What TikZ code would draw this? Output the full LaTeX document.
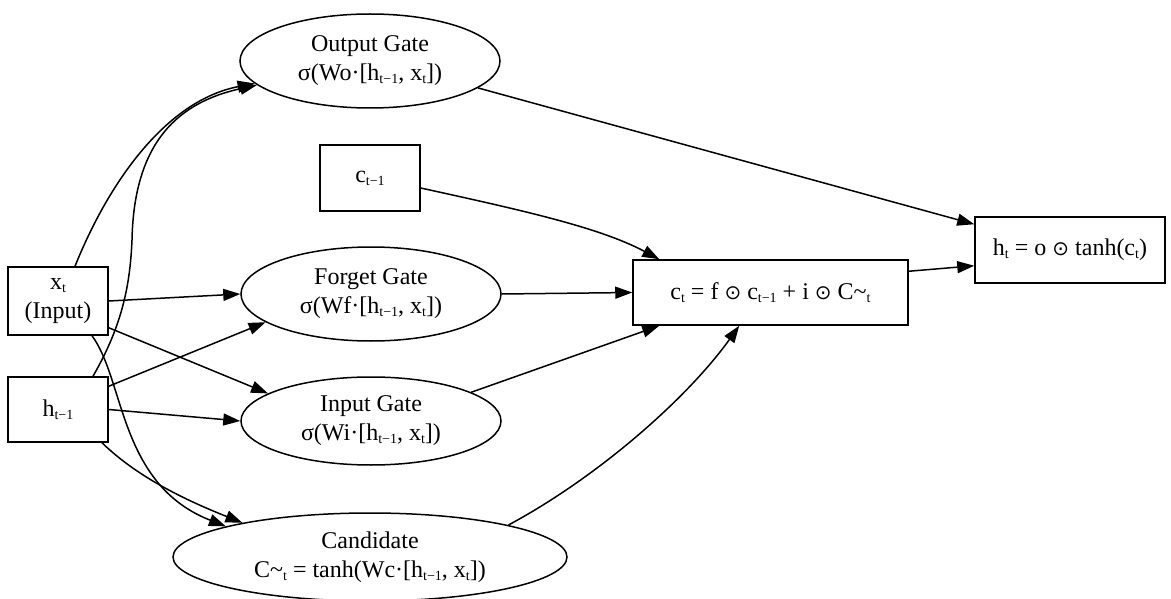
\documentclass[tikz,border=0pt]{standalone}
\usepackage{fontspec}
\setmainfont{Liberation Serif}
\newfontfamily\symf{DejaVu Sans}
\usetikzlibrary{shapes.geometric,arrows.meta}
\newcommand\sbs[1]{\raisebox{-3pt}{\fontsize{14}{14}\selectfont #1}}
\newcommand\odotsym{{\symf\fontsize{20}{20}\selectfont ⊙}}
\begin{document}
\begin{tikzpicture}[x=1pt,y=1pt,
  every node/.style={font=\fontsize{24}{29}\selectfont, align=center, line width=1.5pt, inner sep=0pt},
  boxn/.style={draw, rectangle},
  ell/.style={draw, ellipse},
  arr/.style={line width=1.5pt, -{Triangle[length=17pt,width=12pt]}}]
\path[use as bounding box] (0,0) rectangle (1171,-599);

\node[boxn, minimum width=100, minimum height=68] (xt) at (58,-301) {x\sbs{t}\\(Input)};
\node[boxn, minimum width=100, minimum height=65] (ht) at (58,-409.5) {h\sbs{t−1}};
\node[boxn, minimum width=100, minimum height=66] (cp) at (370,-178) {c\sbs{t−1}};
\node[ell, minimum width=260, minimum height=94] (og) at (370,-61) {Output Gate\\σ(Wo·[h\sbs{t−1}, x\sbs{t}])};
\node[ell, minimum width=260, minimum height=94] (fg) at (371,-294) {Forget Gate\\σ(Wf·[h\sbs{t−1}, x\sbs{t}])};
\node[ell, minimum width=260, minimum height=88] (ig) at (371,-421) {Input Gate\\σ(Wi·[h\sbs{t−1}, x\sbs{t}])};
\node[ell, minimum width=394, minimum height=88] (cd) at (370,-557) {Candidate\\C\textasciitilde\sbs{t} = tanh(Wc·[h\sbs{t−1}, x\sbs{t}])};
\node[boxn, minimum width=275, minimum height=65] (ct) at (770.5,-292.5) {c\sbs{t} = f \odotsym{} c\sbs{t−1} + i \odotsym{} C\textasciitilde\sbs{t}};
\node[boxn, minimum width=190, minimum height=66] (hh) at (1070,-250) {h\sbs{t} = o \odotsym{} tanh(c\sbs{t})};

% to output gate
\draw[arr] ([xshift=17pt]xt.north) .. controls +(35,87) and +(-87,-17) .. (og.191);
\draw[arr] ([xshift=35pt]ht.north) .. controls +(27,47) and +(-2,-50) .. (132,-240)
           .. controls +(2,100) and +(-77,-17) .. (og.192);
% to forget gate
\draw[arr] (xt.east) -- (fg.west);
\draw[arr] ([yshift=-10pt]ht.north east) -- (fg.195);
% to input gate
\draw[arr] ([yshift=8pt]xt.south east) -- (ig.165);
\draw[arr] (ht.east) -- (ig.west);
% to candidate
\draw[arr] ([xshift=34pt]xt.south) .. controls +(33,-45) and +(-107,42) .. (cd.168);
\draw[arr] ([xshift=44pt]ht.south) .. controls +(38,-37) and +(-50,20) .. (cd.165);
% to c_t
\draw[arr] ([yshift=-10pt]cp.east) .. controls +(100,-22) and +(-60,32) .. ([xshift=27pt]ct.north west);
\draw[arr] (fg.east) -- (ct.west);
\draw[arr] (ig.16) -- ([xshift=27pt]ct.south west);
\draw[arr] (cd.13) .. controls +(93,50) and +(-50,-70) .. ([xshift=107pt]ct.south west);
% to h_t
\draw[arr] (og.-14) -- ([yshift=-8pt]hh.north west);
\draw[arr] ([yshift=-12pt]ct.north east) -- ([yshift=18pt]hh.south west);
\end{tikzpicture}
\end{document}
